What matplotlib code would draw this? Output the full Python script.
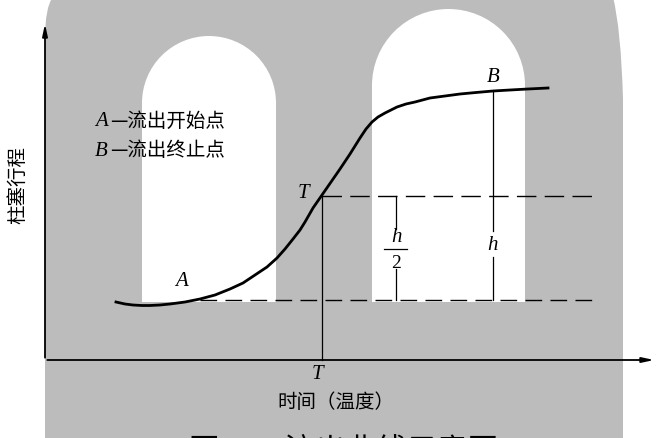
import matplotlib
matplotlib.use('Agg')
import matplotlib.pyplot as plt
from matplotlib.patches import Rectangle, Ellipse, PathPatch
from matplotlib.path import Path
import numpy as np

plt.rcParams['font.family'] = ['Noto Sans CJK SC', 'DejaVu Sans']

# schematic flow curve (time vs plunger travel), in arbitrary units
time_pts = [71, 80, 88, 97, 105, 115, 125, 140, 155, 170, 185, 198, 210, 222,
            232, 240, 248, 255, 260, 268, 277, 286, 295, 305, 315, 321, 327,
            333, 340, 346, 352, 361, 370, 385, 400, 415, 431, 448, 465, 483, 503]
travel_pts = [58, 56, 55, 54.5, 54.5, 55, 56, 58, 61, 65, 71, 77, 85, 93,
              102, 111, 121, 130, 138, 152, 165, 178, 191, 206, 222, 231, 238,
              243, 247, 250, 253, 256, 258, 262, 264, 266, 267.5, 269, 270, 271, 272]

# characteristic points
x_A, y_A = 155, 60      # start of flow
x_B, y_B = 448, 269     # end of flow
y_T = (y_A + y_B) / 2   # half travel
x_T = 277               # flow temperature
x_half = 351            # h/2 marker
x_dash_end = 553
x_max, y_max = 612, 339

legend_lines = [('A', '—流出开始点'), ('B', '—流出终止点')]
xlabel = '时间（温度）'
ylabel = '柱塞行程'
caption = '图 4-3  流出曲线示意图'

W, H = 658, 439
fig = plt.figure(figsize=(W / 100, H / 100), dpi=100)

# background: scanned page with grey arches (pixel coordinates)
bg = fig.add_axes([0, 0, 1, 1])
bg.set_xlim(0, W)
bg.set_ylim(H, 0)
bg.axis('off')
grey = '#bcbcbc'
verts = [(45, H + 5), (45, 40), (45, 8), (53, -2), (613, -2), (621, 30),
         (623, 100), (623, H + 5), (45, H + 5)]
codes = [Path.MOVETO, Path.LINETO, Path.CURVE3, Path.CURVE3, Path.LINETO,
         Path.CURVE3, Path.CURVE3, Path.LINETO, Path.CLOSEPOLY]
bg.add_patch(PathPatch(Path(verts, codes), facecolor=grey, edgecolor='none'))
for cx, r, top, bottom in [(209, 67, 37, 303), (448.5, 76.5, 10, 303)]:
    cy = top + r
    bg.add_patch(Rectangle((cx - r, cy), 2 * r, bottom - cy, facecolor='white', edgecolor='none'))
    bg.add_patch(Ellipse((cx, cy), 2 * r, 2 * r, facecolor='white', edgecolor='none'))

# main drawing
ax = fig.add_axes([0, 0, 1, 1])
ax.patch.set_alpha(0)
ax.set_xlim(-45, W - 45)
ax.set_ylim(-(H - 361), 361)
ax.axis('off')

serif_it = dict(family='Liberation Serif', style='italic')

# axes with arrows
ax.annotate('', xy=(x_max, 0), xytext=(-0.5, 0),
            arrowprops=dict(arrowstyle='-|>,head_length=0.7,head_width=0.15', lw=1.3, color='black'))
ax.annotate('', xy=(0, y_max), xytext=(0, -0.5),
            arrowprops=dict(arrowstyle='-|>,head_length=0.7,head_width=0.15', lw=1.3, color='black'))

# curve
ax.plot(time_pts, travel_pts, color='black', lw=2.0, solid_joinstyle='round')

# dashed guides
ax.plot([x_A, x_dash_end], [y_A, y_A], color='black', lw=1.0, dashes=(12, 6))
ax.plot([x_T, x_dash_end], [y_T, y_T], color='black', lw=1.0, dashes=(14, 6))

# vertical guides (broken around the h labels)
ax.plot([x_T, x_T], [0, y_T], color='black', lw=0.9)
ax.plot([x_half, x_half], [y_A, 91], color='black', lw=0.9)
ax.plot([x_half, x_half], [131, y_T], color='black', lw=0.9)
ax.plot([x_B, x_B], [y_A, 103], color='black', lw=0.9)
ax.plot([x_B, x_B], [129, y_B], color='black', lw=0.9)

# h/2 label
ax.text(x_half, 124, 'h', ha='center', va='center', fontsize=15, **serif_it)
ax.plot([x_half - 12, x_half + 11], [111, 111], color='black', lw=0.9)
ax.text(x_half, 98, '2', ha='center', va='center', fontsize=14, family='Liberation Serif')
ax.text(x_B, 116, 'h', ha='center', va='center', fontsize=15, **serif_it)

# point labels
ax.text(x_T - 19, y_T + 3, 'T', ha='center', va='center', fontsize=15, **serif_it)
ax.text(x_T - 5, -14, 'T', ha='center', va='center', fontsize=15, **serif_it)
ax.text(x_A - 18, y_A + 19, 'A', ha='center', va='center', fontsize=15, **serif_it)
ax.text(x_B, y_B + 15, 'B', ha='center', va='center', fontsize=15, **serif_it)

# legend text
for i, (letter, desc) in enumerate(legend_lines):
    yy = 240 - 30 * i
    ax.text(50, yy, letter, ha='left', va='center', fontsize=15, **serif_it)
    ax.text(65, yy, desc, ha='left', va='center', fontsize=14)

# axis titles and caption (caption cut by the page edge as in the scan)
ax.text(291, -42, xlabel, ha='center', va='center', fontsize=14)
ax.text(-27, 176, ylabel, ha='center', va='center', fontsize=14, rotation=90)
ax.text(299, -75, caption, ha='center', va='top', fontsize=22)

fig.savefig('out.png', dpi=100)
